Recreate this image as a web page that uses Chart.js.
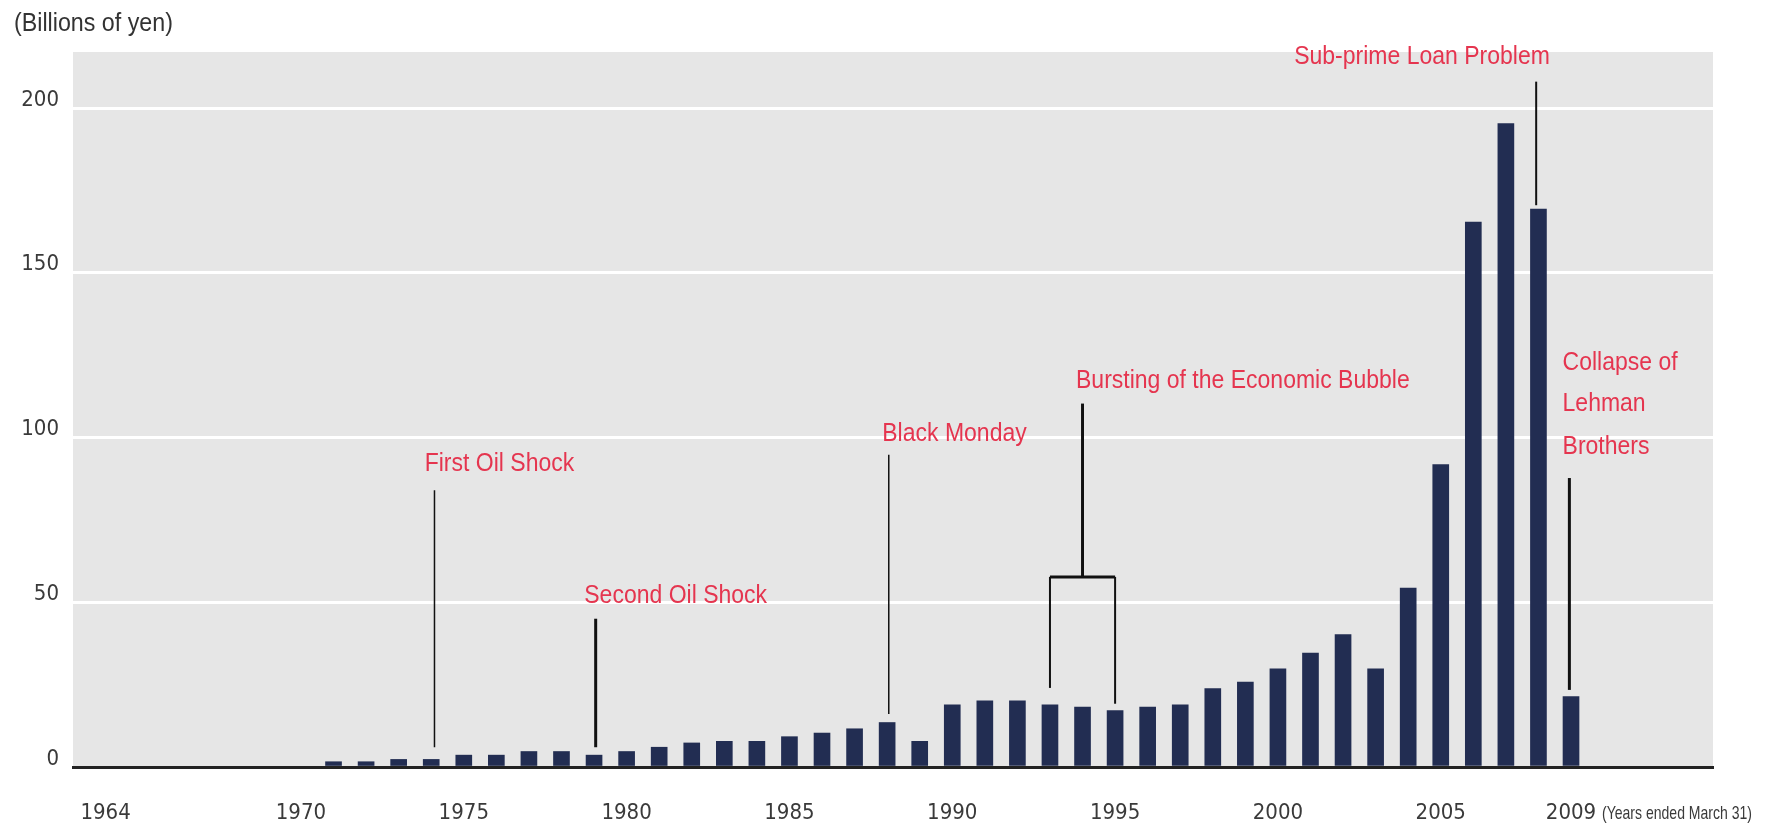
<!DOCTYPE html>
<html>
<head>
<meta charset="utf-8">
<script src="https://cdn.jsdelivr.net/npm/chart.js@4.4.1/dist/chart.umd.min.js"></script>
<style>
html,body{margin:0;padding:0;background:#ffffff;overflow:hidden}
canvas{display:block}
</style>
</head>
<body>
<canvas id="c" width="1769" height="830"></canvas>
<script>
// ---------- DATA ----------
const years = [1971,1972,1973,1974,1975,1976,1977,1978,1979,1980,
               1981,1982,1983,1984,1985,1986,1987,1988,1989,1990,
               1991,1992,1993,1994,1995,1996,1997,1998,1999,2000,
               2001,2002,2003,2004,2005,2006,2007,2008,2009];
const values = [1.6,1.6,2.3,2.3,3.6,3.6,4.7,4.7,3.6,4.7,
                6.0,7.3,7.8,7.8,9.2,10.3,11.6,13.5,7.8,18.9,
                20.1,20.1,18.9,18.2,17.1,18.2,18.9,23.8,25.8,29.8,
                34.6,40.2,29.8,54.3,91.8,165.4,195.3,169.3,21.4];
const xTickYears = [1964,1970,1975,1980,1985,1990,1995,2000,2005,2009];
const yTickValues = [0,50,100,150,200];
const yAxisTitle = '(Billions of yen)';
const xAxisNote = '(Years ended March 31)';

// event notes (text, anchor year, anchor value, alignment)
const noteLabels = ['First Oil Shock','Second Oil Shock','Black Monday',
                    'Bursting of the Economic Bubble','Sub-prime Loan Problem',
                    'Collapse of','Lehman','Brothers'];
const noteYears  = [1973.8,1978.7,1987.85,1993.8,2008.35,2008.74,2008.74,2008.74];
const noteValues = [92,52,101,117,215.5,122.5,110.1,97.1];
const noteAlign  = ['left','left','left','left','right','left','left','left'];

// leader lines: [yearFrom, valueFrom, yearTo, valueTo, lineWidth]
const leaderLines = [
  [1974.1, 84.0, 1974.1, 6.0, 1.5],
  [1979.05, 45.0, 1979.05, 6.0, 3],
  [1988.05, 94.8, 1988.05, 16.1, 1.5],
  [1994.0, 110.3, 1994.0, 57.7, 3],
  [1993.0, 57.7, 1995.0, 57.7, 3],
  [1993.0, 57.7, 1993.0, 24.0, 2],
  [1995.0, 57.7, 1995.0, 19.2, 2],
  [2007.93, 208.0, 2007.93, 170.5, 2],
  [2008.95, 87.7, 2008.95, 23.4, 3]
];

// ---------- FONTS ----------
function hasFont(name){
  const c = document.createElement('canvas').getContext('2d');
  const s = 'abcdefghijklmnopqrstuvwxyz 0123456789';
  c.font = '40px monospace'; const a = c.measureText(s).width;
  c.font = "40px '" + name + "', monospace"; const b = c.measureText(s).width;
  c.font = '40px serif'; const a2 = c.measureText(s).width;
  c.font = "40px '" + name + "', serif"; const b2 = c.measureText(s).width;
  return a !== b || a2 !== b2;
}
let tickFamily = "'Liberation Sans', Arial, sans-serif", tickSize = 22;
if (hasFont('Liberation Sans Narrow')) { tickFamily = "'Liberation Sans Narrow', sans-serif"; tickSize = 27; }
else if (hasFont('DejaVu Sans Condensed')) { tickFamily = "'DejaVu Sans Condensed', sans-serif"; tickSize = 22; }
const textFamily = "'Liberation Sans', Arial, sans-serif";
const noteColor = '#e5354f';
const tickColor = '#3a3a3a';

// draw text at a taller size, squeezed horizontally (condensed look)
function condensedText(ctx, text, x, y, size, squeeze, align){
  ctx.save();
  ctx.font = size + 'px ' + textFamily;
  ctx.textBaseline = 'middle';
  ctx.textAlign = 'left';
  const w = ctx.measureText(text).width * squeeze;
  const left = align === 'right' ? x - w : x;
  ctx.translate(left, y);
  ctx.scale(squeeze, 1);
  ctx.fillText(text, 0, 0);
  ctx.restore();
}

// ---------- PLUGINS ----------
const backgroundPlugin = {
  id: 'plotBg',
  beforeDraw(chart){
    const a = chart.chartArea, ctx = chart.ctx;
    ctx.save();
    ctx.fillStyle = '#e6e6e6';
    ctx.fillRect(a.left, a.top, a.right - a.left, a.bottom - a.top);
    ctx.restore();
  }
};

const notesPlugin = {
  id: 'notes',
  afterDraw(chart){
    const ctx = chart.ctx, xs = chart.scales.x, ys = chart.scales.y;
    ctx.save();
    // leader lines
    ctx.strokeStyle = '#111111';
    ctx.lineCap = 'butt';
    leaderLines.forEach(l => {
      ctx.lineWidth = l[4];
      ctx.beginPath();
      ctx.moveTo(xs.getPixelForValue(l[0]), ys.getPixelForValue(l[1]));
      ctx.lineTo(xs.getPixelForValue(l[2]), ys.getPixelForValue(l[3]));
      ctx.stroke();
    });
    // event texts
    ctx.fillStyle = noteColor;
    noteLabels.forEach((t, i) => {
      condensedText(ctx, t, xs.getPixelForValue(noteYears[i]), ys.getPixelForValue(noteValues[i]),
                    25, 0.92, noteAlign[i]);
    });
    // axis unit title
    ctx.fillStyle = '#333333';
    condensedText(ctx, yAxisTitle, 14, 24, 25, 0.93, 'left');
    // x axis note (condensed to fit)
    ctx.font = '19px ' + textFamily;
    const w = ctx.measureText(xAxisNote).width;
    ctx.fillStyle = tickColor;
    condensedText(ctx, xAxisNote, 1602, 814, 19, 150 / w, 'left');
    ctx.restore();
  }
};

// ---------- CHART ----------
new Chart(document.getElementById('c'), {
  type: 'bar',
  data: {
    datasets: [{
      data: years.map((y, i) => ({x: y, y: values[i]})),
      backgroundColor: '#222d52',
      borderWidth: 0,
      barThickness: 16
    }]
  },
  options: {
    responsive: false,
    devicePixelRatio: 1,
    animation: false,
    events: [],
    layout: { padding: { top: 52, right: 56, left: 0, bottom: 0 } },
    plugins: { legend: { display: false }, tooltip: { enabled: false }, title: { display: false } },
    scales: {
      x: {
        type: 'linear',
        offset: false,
        min: 1963.0,
        max: 2013.36,
        afterBuildTicks(axis){ axis.ticks = xTickYears.map(v => ({value: v})); },
        afterFit(axis){ axis.height = 63; },
        grid: { display: false, drawTicks: false, offset: false },
        border: { display: true, color: '#222222', width: 3, z: 1 },
        ticks: {
          autoSkip: false, maxRotation: 0, padding: 33,
          color: tickColor,
          font: { family: tickFamily, size: tickSize },
          callback: v => String(v)
        }
      },
      y: {
        type: 'linear',
        min: 0,
        max: 217,
        afterBuildTicks(axis){ axis.ticks = yTickValues.map(v => ({value: v})); },
        afterFit(axis){ axis.width = 73; },
        grid: {
          drawTicks: false,
          lineWidth: 3,
          color: c => (c.tick && c.tick.value === 0) ? 'rgba(0,0,0,0)' : '#ffffff'
        },
        border: { display: false },
        ticks: {
          padding: 14,
          labelOffset: -8,
          color: tickColor,
          font: { family: tickFamily, size: tickSize },
          callback: v => String(v)
        }
      }
    }
  },
  plugins: [backgroundPlugin, notesPlugin]
});
</script>
</body>
</html>
